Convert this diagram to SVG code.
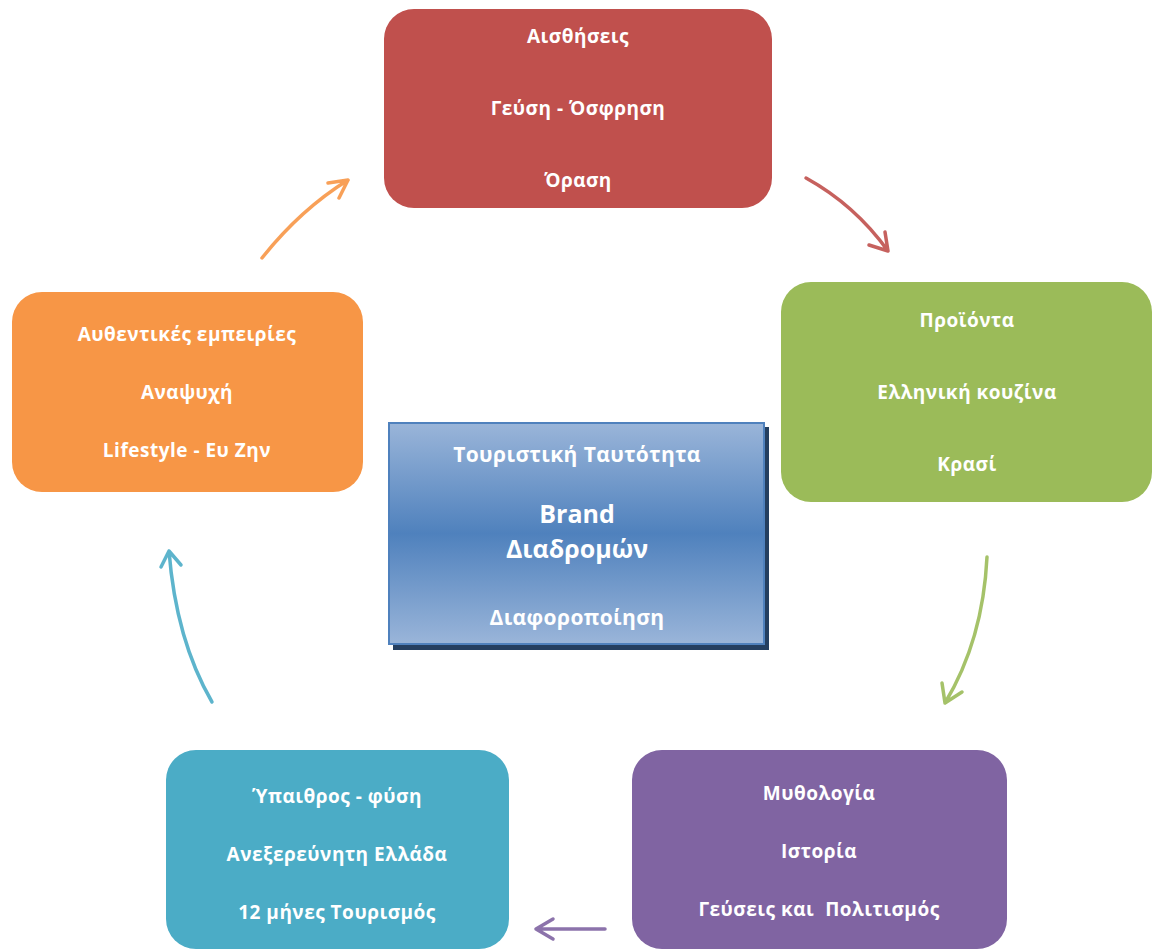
<svg xmlns="http://www.w3.org/2000/svg" width="1153" height="949" viewBox="0 0 1153 949">
<defs>
<linearGradient id="cg" x1="0" y1="0" x2="0" y2="1">
<stop offset="0" stop-color="#9AB5D9"/>
<stop offset="0.5" stop-color="#4F81BD"/>
<stop offset="1" stop-color="#9AB5D9"/>
</linearGradient>
<style>
.t{font-family:"Open Sans","Liberation Sans",sans-serif;font-weight:bold;fill:#fff;text-anchor:middle;font-size:19px;letter-spacing:0.5px}
.c{font-size:21px;letter-spacing:0.4px}
.b{font-size:25px;letter-spacing:0}
.p{white-space:pre}
.a{fill:none;stroke-width:3.5;stroke-linecap:round;stroke-linejoin:round;opacity:0.9}
</style>
</defs>
<rect width="1153" height="949" fill="#fff"/>
<g id="connectors">
<path class="a" stroke="#F79646" d="M262,258 Q300,210 348,180 M328,183 L348,180 L339,198"/>
<path class="a" stroke="#C0504D" d="M806,178 Q855,205 888,251 M869,245 L888,251 L885,232"/>
<path class="a" stroke="#9BBB59" d="M987,557 Q983,640 945,703 M942,683 L945,703 L962,692"/>
<path class="a" stroke="#8064A2" d="M605,929 L536,929 M553,919 L536,929 L553,939"/>
<path class="a" stroke="#4BACC6" d="M212,702 Q176,640 169,551 M161,567 L169,551 L181,565"/>
</g>
<g id="node-red">
<rect x="384" y="9" width="388" height="199" rx="30" fill="#C0504D"/>
<text class="t" x="578" y="43">Αισθήσεις</text>
<text class="t" x="578" y="115">Γεύση - Όσφρηση</text>
<text class="t" x="578" y="187">Όραση</text>
</g>
<g id="node-green">
<rect x="781" y="282" width="371" height="220" rx="30" fill="#9BBB59"/>
<text class="t" x="967" y="327">Προϊόντα</text>
<text class="t" x="967" y="399">Ελληνική κουζίνα</text>
<text class="t" x="967" y="471">Κρασί</text>
</g>
<g id="node-purple">
<rect x="632" y="750" width="375" height="199" rx="30" fill="#8064A2"/>
<text class="t" x="819" y="800">Μυθολογία</text>
<text class="t" x="819" y="858">Ιστορία</text>
<text class="t p" x="819" y="916" xml:space="preserve">Γεύσεις και  Πολιτισμός</text>
</g>
<g id="node-teal">
<rect x="166" y="750" width="343" height="199" rx="30" fill="#4BACC6"/>
<text class="t" x="337" y="803">Ύπαιθρος - φύση</text>
<text class="t" x="337" y="861">Ανεξερεύνητη Ελλάδα</text>
<text class="t" x="337" y="919">12 μήνες Τουρισμός</text>
</g>
<g id="node-orange">
<rect x="12" y="292" width="351" height="200" rx="30" fill="#F79646"/>
<text class="t" x="187" y="341">Αυθεντικές εμπειρίες</text>
<text class="t" x="187" y="399">Αναψυχή</text>
<text class="t" x="187" y="457">Lifestyle - Ευ Ζην</text>
</g>
<g id="node-center">
<rect x="393" y="427" width="376" height="223" fill="#243F60"/>
<rect x="389" y="423" width="375" height="221" fill="url(#cg)" stroke="#4F81BD" stroke-width="2"/>
<text class="t c" x="577" y="462">Τουριστική Ταυτότητα</text>
<text class="t b" x="577" y="523">Brand</text>
<text class="t b" x="577" y="558">Διαδρομών</text>
<text class="t c" x="577" y="625">Διαφοροποίηση</text>
</g>
</svg>
